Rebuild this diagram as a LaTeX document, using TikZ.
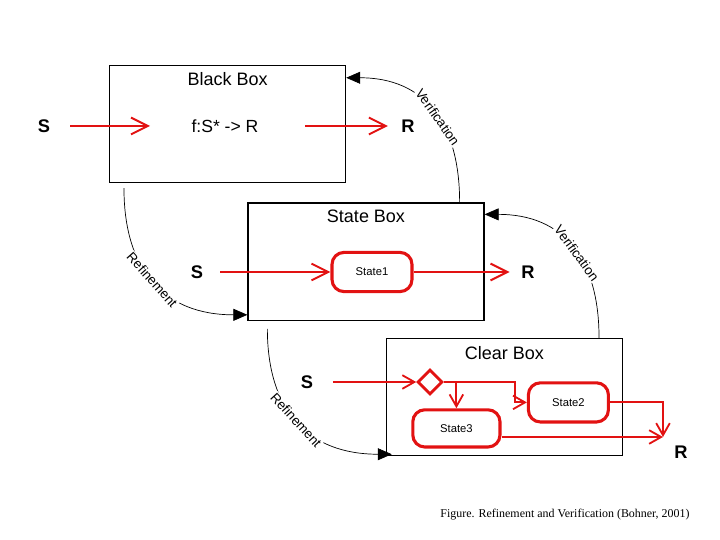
\documentclass[tikz,border=0pt]{standalone}
\usepackage{fontspec}
\setmainfont{Liberation Serif}
\setsansfont{Liberation Sans}
\usepackage{tikz}
\usetikzlibrary{calc, positioning, arrows.meta, shapes.geometric}
\usepackage{xcolor}
\definecolor{flowred}{RGB}{226, 18, 18}

\begin{document}
\begin{tikzpicture}[font=\sffamily,
    boxframe/.style={draw, line width=0.9pt, minimum width=5.9cm, minimum height=2.93cm, inner sep=0},
    boxtitle/.style={inner sep=0, font=\sffamily\fontsize{12.8}{15}\selectfont},
    io/.style={inner sep=0, font=\sffamily\bfseries\fontsize{13}{15}\selectfont},
    plain/.style={inner sep=0, font=\sffamily\fontsize{12.5}{15}\selectfont},
    state/.style={draw=flowred, line width=2.2pt, rounded corners=0.3cm, minimum width=2cm, minimum height=0.98cm, font=\sffamily\fontsize{8}{10}\selectfont},
    choice/.style={diamond, draw=flowred, line width=2pt, minimum width=0.62cm, minimum height=0.62cm, inner sep=0},
    flow/.style={flowred, line width=1.4pt, -{Straight Barb[length=0.42cm, width=0.42cm]}},
    flowsm/.style={flowred, line width=1.3pt, -{Straight Barb[length=0.3cm, width=0.34cm]}},
    link/.style={line width=0.5pt, -{Triangle[length=0.35cm, width=0.3cm]}, looseness=1.2},
    arclabel/.style={sloped, fill=white, inner sep=0.6pt, font=\sffamily\fontsize{9.5}{11}\selectfont}]
  \useasboundingbox (0,0) rectangle (18,13.5);
  % the three boxes
  \node[boxframe] (bb) at (5.69,10.4) {};
  \node[boxtitle, below=0.18cm of bb.north] (bbt) {Black Box};
  \node[boxframe] (sb) at (9.15,6.96) {};
  \node[boxtitle, below=0.18cm of sb.north] (sbt) {State Box};
  \node[boxframe] (cb) at (12.61,3.575) {};
  \node[boxtitle, below=0.22cm of cb.north] (cbt) {Clear Box};

  % black box
  \node[io] (s1) at (1.1,10.35) {S};
  \node[plain] (fn) at (5.625,10.35) {f:S* -> R};
  \node[io] (r1) at (10.2,10.35) {R};
  \coordinate (in1) at (3.75,10.35);
  \coordinate (out1) at (7.625,10.35);
  \draw[flow, shorten <=0.5cm] (s1) -- (in1);
  \draw[flow, shorten >=0.33cm] (out1) -- (r1);

  % state box
  \node[io] (s2) at (4.925,6.7) {S};
  \node[state] (st1) at (9.3,6.7) {State1};
  \node[io] (r2) at (13.2,6.7) {R};
  \draw[flow, shorten <=0.42cm] (s2) -- (st1);
  \draw[flow, shorten >=0.29cm] (st1) -- (r2);

  % clear box
  \node[io] (s3) at (7.675,3.95) {S};
  \node[choice] (dm) at (10.75,3.95) {};
  \node[state] (st2) at (14.21,3.44) {State2};
  \node[state, minimum width=2.18cm, minimum height=0.93cm] (st3) at (11.41,2.79) {State3};
  \node[io] (r3) at (17.025,2.2) {R};
  \coordinate (bend) at (12.875,3.95);
  \coordinate (join) at (16.575,2.575);
  \draw[flowsm, shorten <=0.49cm] (s3) -- (dm);
  \draw[flowsm] (dm.east) -- (bend) |- (st2.west);
  \draw[flowsm] (dm.east -| st3.north) -- (st3.north);
  \draw[flowsm] (st2.east) -| (join);
  \draw[flowsm] (st3.east |- join) -- (join);

  % refinement and verification arcs
  \draw[link] ($(sb.north east)+(-0.625,0)$) to[out=90, in=0]
    node[arclabel, pos=0.45] {Verification} ($(bb.north east)+(0,-0.325)$);
  \draw[link] ($(cb.north east)+(-0.6,0)$) to[out=90, in=0]
    node[arclabel, pos=0.45] {Verification} ($(sb.north east)+(0,-0.3)$);
  \draw[link] ($(bb.south west)+(0.375,-0.125)$) to[out=-90, in=180]
    node[arclabel, pos=0.48] {Refinement} ($(sb.south west)+(0,0.15)$);
  \draw[link] ($(sb.south west)+(0.5,-0.2)$) to[out=-90, in=180]
    node[arclabel, pos=0.48] {Refinement} ($(cb.south west)+(0.15,0.05)$);

  \node[font=\rmfamily\fontsize{8.5}{10}\selectfont] (cap) at (14.125,0.625) {Figure. Refinement and Verification (Bohner, 2001)};
\end{tikzpicture}
\end{document}
